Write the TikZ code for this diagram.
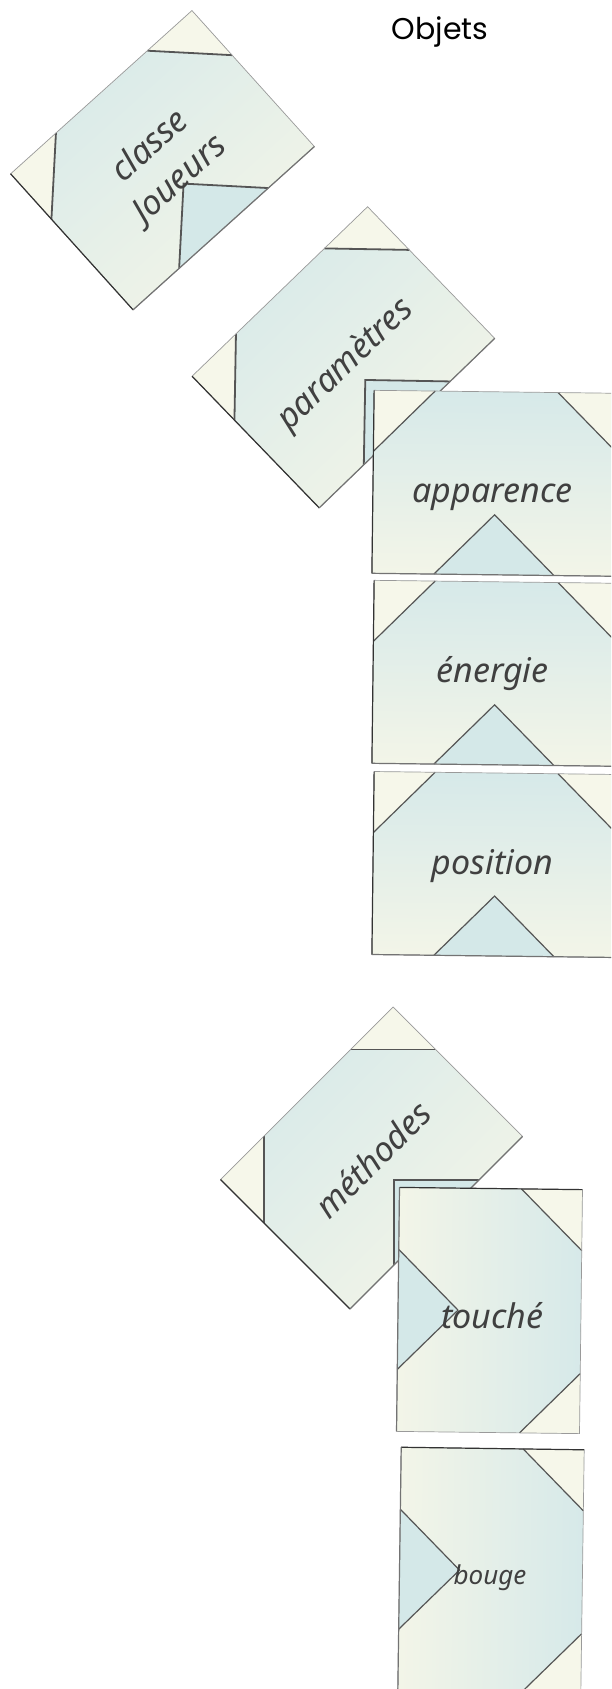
\documentclass[tikz,border=0pt]{standalone}
\usepackage{fontspec}
\setmainfont{Noto Sans}
\newfontfamily\titlefont{Poppins}
\definecolor{cblue}{HTML}{D4E8E8}
\definecolor{ccream}{HTML}{F6F7EA}
\definecolor{ctop}{HTML}{D6E9E9}
\definecolor{cbot}{HTML}{F3F5E8}
\definecolor{cline}{HTML}{555555}
\definecolor{ctext}{HTML}{404040}
\definecolor{cedge}{HTML}{9A9A9A}
% #1 x, #2 y, #3 angle, #4 pattern line width
\newcommand\cardshape[4]{%
 \begin{scope}[shift={(#1,#2)},rotate=#3]
  \shade[top color=ctop,bottom color=cbot,shading angle=#3] (-122,-91.5) rectangle (122,91.5);
  \fill[ccream] (-122,-91.5) -- (-61,-91.5) -- (-122,-30.5) -- cycle;
  \fill[ccream] (122,-91.5) -- (62,-91.5) -- (122,-31.5) -- cycle;
  \fill[cblue] (-60,91.5) -- (0,31.5) -- (60,91.5) -- cycle;
  \draw[cline,line width=#4] (-61,-91.5) -- (-122,-30.5);
  \draw[cline,line width=#4] (62,-91.5) -- (122,-31.5);
  \draw[cline,line width=#4] (-60,91.5) -- (0,31.5) -- (60,91.5);
  \draw[cedge,line width=0.7] (-122,-91.5) rectangle (122,91.5);
  \draw[black!80,line width=1.2] (-122,-91.5) -- (-122,91.5);
  \draw[black!55,line width=1.2] (-122,91.5) -- (122,91.5);
 \end{scope}}
\tikzset{
 lbl/.style={text=ctext,font=\itshape\fontsize{34}{44}\selectfont,align=center,inner sep=0pt},
 smalllbl/.style={lbl,font=\itshape\fontsize{26}{30}\selectfont}
}
\begin{document}
\begin{tikzpicture}[x=1pt,y=-1pt]
\useasboundingbox (0,0) rectangle (611,1689);
\clip (0,0) rectangle (611,1689);
\fill[white] (0,0) rectangle (611,1689);

\node[font=\titlefont\fontsize{30}{33}\selectfont,inner sep=0pt] (title) at (440,32) {Objets};

\cardshape{162.5}{160.2}{42}{1.8}
\node[lbl,rotate=42] (classe) at (165,163) {classe\\Joueurs};

\cardshape{343.4}{357.3}{44}{1.8}
\node[lbl,rotate=44] (param) at (346,365) {paramètres};

\cardshape{495}{483.3}{-0.7}{1.2}
\node[lbl] (apparence) at (492.5,497) {apparence};

\cardshape{495}{673.3}{-0.7}{1.2}
\node[lbl] (energie) at (492.5,674) {énergie};

\cardshape{495}{864.5}{-0.7}{1.2}
\node[lbl] (position) at (492.5,866) {position};

\cardshape{371.5}{1158}{45}{1.8}
\node[lbl,rotate=45] (methodes) at (372.5,1159) {méthodes};

\cardshape{489.5}{1310.5}{-90.7}{1.2}
\node[lbl] (touche) at (492.5,1316) {touché};

\cardshape{491}{1570.5}{-90.8}{1.2}
\node[smalllbl] (bouge) at (490,1578) {bouge};
\end{tikzpicture}
\end{document}
